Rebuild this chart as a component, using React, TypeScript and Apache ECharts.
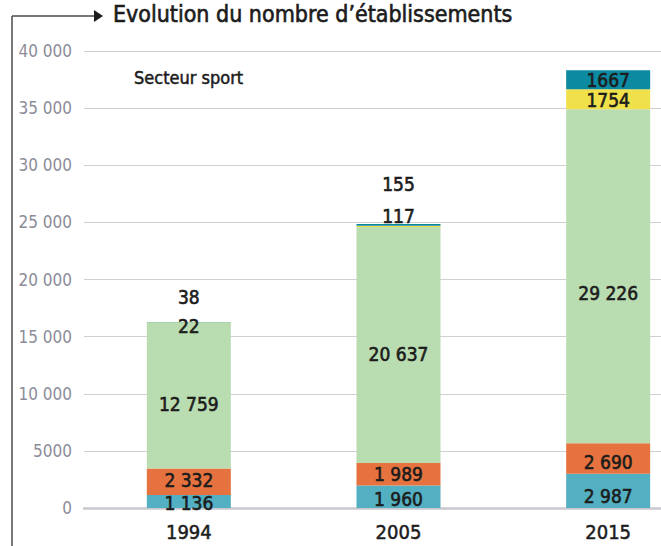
import React, { useEffect, useRef } from "react";
import * as echarts from "echarts";

const categories = ["1994", "2005", "2015"];
const tealLow = [1136, 1960, 2987];
const orange = [2332, 1989, 2690];
const green = [12759, 20637, 29226];
const yellow = [22, 117, 1754];
const tealTop = [38, 155, 1667];

const FONT = '"DejaVu Sans Condensed", "Liberation Sans Narrow", "Roboto", sans-serif';

const grouped = (v: number) =>
  v >= 1000 ? `${Math.floor(v / 1000)} ${String(v % 1000).padStart(3, "0")}` : String(v);

const axisFmt = (v: number) => (v >= 10000 ? grouped(v) : String(v));

export default function App() {
  const ref = useRef<HTMLDivElement>(null);
  useEffect(() => {
    if (!ref.current) return;
    const chart = echarts.init(ref.current, null, { renderer: "svg" });
    const labelBase = {
      show: true,
      color: "#1c1c1c",
      fontFamily: FONT,
      fontSize: 19,
      textBorderColor: "#1c1c1c",
      textBorderWidth: 0.6,
    };
    const greenOffsets = [[0, 9], [0, 9], [0, 17]];
    const yellowLabels = [
      { position: "inside", offset: [0, 4] },
      { position: "top", distance: 0 },
      { position: "inside", offset: [0, 1] },
    ];
    const topLabels = [
      { position: "top", distance: 15 },
      { position: "top", distance: 30 },
      { position: "inside", offset: [0, 0] },
    ];
    const lowLabels = [{ offset: [0, 1] }, { offset: [0, 2] }, { offset: [0, 5] }];
    const midLabels = [{ offset: [0, -2] }, { offset: [0, 0] }, { offset: [0, 3] }];
    const mk = (
      name: string,
      data: number[],
      color: string,
      fmt: (v: number) => string,
      perItem?: any[]
    ) => ({
      name,
      type: "bar",
      stack: "total",
      barWidth: 84,
      itemStyle: { color },
      label: { ...labelBase, position: "inside", formatter: (p: any) => fmt(p.value) },
      data: data.map((v, i) => (perItem ? { value: v, label: perItem[i] } : v)),
    });
    chart.setOption({
      animation: false,
      grid: { left: 84, top: 51, width: 629, bottom: 38, outerBoundsMode: "none", containLabel: false },
      graphic: [
        { type: "line", shape: { x1: 12, y1: 16, x2: 12, y2: 546 }, style: { stroke: "#4a4a4a", lineWidth: 1.5 } },
        { type: "line", shape: { x1: 12, y1: 16, x2: 96, y2: 16 }, style: { stroke: "#4a4a4a", lineWidth: 1.5 } },
        { type: "polygon", shape: { points: [[94, 10], [103, 16], [94, 22]] }, style: { fill: "#1c1c1c" } },
        {
          type: "text",
          x: 113,
          y: 14,
          style: {
            text: "Evolution du nombre d’établissements",
            font: `23px ${FONT}`,
            fill: "#1c1c1c",
            stroke: "#1c1c1c",
            lineWidth: 0.6,
            verticalAlign: "middle",
          },
        },
        {
          type: "text",
          x: 134,
          y: 77,
          style: {
            text: "Secteur sport",
            font: `18px ${FONT}`,
            fill: "#1c1c1c",
            stroke: "#1c1c1c",
            lineWidth: 0.5,
            verticalAlign: "middle",
          },
        },
      ],
      xAxis: {
        type: "category",
        data: categories,
        axisLine: { lineStyle: { color: "#c8c8ce", width: 2.5 } },
        axisTick: { show: false },
        axisLabel: {
          color: "#1c1c1c",
          fontFamily: FONT,
          fontSize: 20,
          margin: 14,
          textBorderColor: "#1c1c1c",
          textBorderWidth: 0.5,
        },
      },
      yAxis: {
        type: "value",
        min: 0,
        max: 40000,
        interval: 5000,
        axisLine: { show: false },
        axisTick: { show: false },
        splitLine: { lineStyle: { color: "#cfcfd4", width: 1.2 } },
        axisLabel: {
          color: "#8c8c99",
          fontFamily: FONT,
          fontSize: 17,
          margin: 12,
          formatter: axisFmt,
        },
      },
      series: [
        mk("tealLow", tealLow, "#53b0c2", grouped, lowLabels),
        mk("orange", orange, "#e6733f", grouped, midLabels),
        mk("green", green, "#b9ddb0", grouped, greenOffsets.map((o) => ({ offset: o }))),
        mk("yellow", yellow, "#f0e04a", (v) => String(v), yellowLabels),
        mk("tealTop", tealTop, "#0b8aa1", (v) => String(v), topLabels),
      ],
    });
    return () => chart.dispose();
  }, []);
  return (
    <div
      ref={ref}
      style={{ position: "fixed", left: 0, top: 0, width: 661, height: 546, background: "#fff" }}
    />
  );
}
